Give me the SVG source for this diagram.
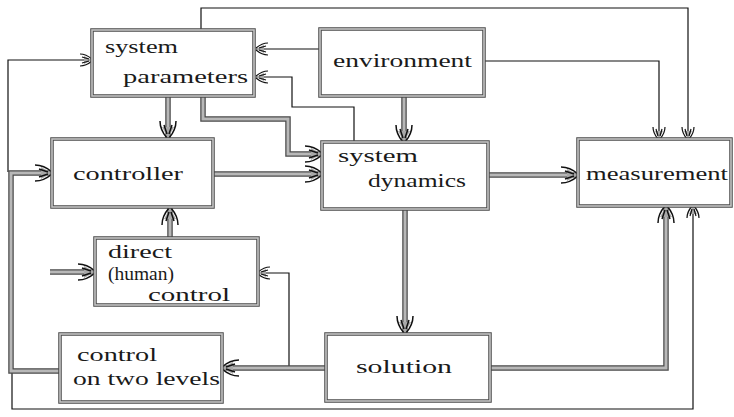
<svg xmlns="http://www.w3.org/2000/svg" width="734" height="417" viewBox="0 0 734 417">
<style>
.bo{fill:#fff;stroke:#4a4a4a;stroke-width:3.5}
.bi{fill:none;stroke:#c4c4c4;stroke-width:1.6}
.ko{fill:none;stroke:#4a4a4a;stroke-width:5.5}
.ki{fill:none;stroke:#b8b8b8;stroke-width:3}
.th{fill:none;stroke:#111;stroke-width:1.2}
text{font-family:"Liberation Serif","DejaVu Serif",serif;font-size:19px;fill:#1a1a1a}
</style>
<defs>
<marker id="ak" viewBox="-18 -10 20 20" markerWidth="20" markerHeight="20" refX="0" refY="0" orient="auto" markerUnits="userSpaceOnUse">
<path d="M0,0 L-11,-6 L-11,6 Z" fill="#a8a8a8"/>
<path d="M-17,-8 Q-8,-8 0,-1 M-17,8 Q-8,8 0,1 M-13,-4 L-4,-1 M-13,4 L-4,1" fill="none" stroke="#111" stroke-width="1.5"/>
</marker>
<marker id="at" viewBox="-14 -8 16 16" markerWidth="16" markerHeight="16" refX="0" refY="0" orient="auto" markerUnits="userSpaceOnUse">
<path d="M0,0 L-8,-4 L-8,4 Z" fill="#aaa"/>
<path d="M-12,-6 Q-6,-6 0,-1 M-12,6 Q-6,6 0,1 M-10,-3 L-3,-1 M-10,3 L-3,1" fill="none" stroke="#111" stroke-width="1.2"/>
</marker>
</defs>
<g id="connectors">
<g id="thin">
<path class="th" d="M201,29 V8 H688 V139" marker-end="url(#at)"/>
<path class="th" d="M484,61 H659 V139" marker-end="url(#at)"/>
<path class="th" d="M320,49 H256" marker-end="url(#at)"/>
<path class="th" d="M354,142 V107 H292 V77 H256" marker-end="url(#at)"/>
<path class="th" d="M8,172 V60 H92" marker-end="url(#at)"/>
<path class="th" d="M12,372 V409 H693 V206" marker-end="url(#at)"/>
<path class="th" d="M289,368 V273 H258" marker-end="url(#at)"/>
</g>
<g id="thick">
<path class="ko" d="M168,96 V138"/><path class="ki" d="M168,96 V138" marker-end="url(#ak)"/>
<path class="ko" d="M203,96 V119 H288 V154 H322"/><path class="ki" d="M203,96 V119 H288 V154 H322" marker-end="url(#ak)"/>
<path class="ko" d="M404,96 V142"/><path class="ki" d="M404,96 V142" marker-end="url(#ak)"/>
<path class="ko" d="M213,174 H322"/><path class="ki" d="M213,174 H322" marker-end="url(#ak)"/>
<path class="ko" d="M488,175 H578"/><path class="ki" d="M488,175 H578" marker-end="url(#ak)"/>
<path class="ko" d="M405,209 V333"/><path class="ki" d="M405,209 V333" marker-end="url(#ak)"/>
<path class="ko" d="M490,368 H666 V206"/><path class="ki" d="M490,368 H666 V206" marker-end="url(#ak)"/>
<path class="ko" d="M326,368 H222"/><path class="ki" d="M326,368 H222" marker-end="url(#ak)"/>
<path class="ko" d="M60,371 H11 V173 H52"/><path class="ki" d="M60,371 H11 V173 H52" marker-end="url(#ak)"/>
<path class="ko" d="M50,272 H95"/><path class="ki" d="M50,272 H95" marker-end="url(#ak)"/>
<path class="ko" d="M170,238 V208"/><path class="ki" d="M170,238 V208" marker-end="url(#ak)"/>
</g>
</g>
<g id="system-parameters"><rect class="bo" x="92" y="30" width="162" height="66"/><rect class="bi" x="92" y="30" width="162" height="66"/>
<text x="105" y="53" textLength="73" lengthAdjust="spacingAndGlyphs">system</text>
<text x="123" y="83" textLength="125" lengthAdjust="spacingAndGlyphs">parameters</text></g>
<g id="environment"><rect class="bo" x="320" y="29" width="164" height="67"/><rect class="bi" x="320" y="29" width="164" height="67"/>
<text x="333" y="67" textLength="139" lengthAdjust="spacingAndGlyphs">environment</text></g>
<g id="controller"><rect class="bo" x="52" y="139" width="161" height="68"/><rect class="bi" x="52" y="139" width="161" height="68"/>
<text x="73" y="180" textLength="110" lengthAdjust="spacingAndGlyphs">controller</text></g>
<g id="system-dynamics"><rect class="bo" x="322" y="142" width="166" height="67"/><rect class="bi" x="322" y="142" width="166" height="67"/>
<text x="338" y="162" textLength="80" lengthAdjust="spacingAndGlyphs">system</text>
<text x="368" y="187" textLength="98" lengthAdjust="spacingAndGlyphs">dynamics</text></g>
<g id="measurement"><rect class="bo" x="578" y="139" width="153" height="67"/><rect class="bi" x="578" y="139" width="153" height="67"/>
<text x="586" y="180" textLength="142" lengthAdjust="spacingAndGlyphs">measurement</text></g>
<g id="direct-control"><rect class="bo" x="95" y="238" width="163" height="67"/><rect class="bi" x="95" y="238" width="163" height="67"/>
<text x="108" y="258" textLength="64" lengthAdjust="spacingAndGlyphs">direct</text>
<text x="108" y="280" textLength="66" lengthAdjust="spacingAndGlyphs">(human)</text>
<text x="148" y="301" textLength="82" lengthAdjust="spacingAndGlyphs">control</text></g>
<g id="control-two-levels"><rect class="bo" x="60" y="334" width="162" height="68"/><rect class="bi" x="60" y="334" width="162" height="68"/>
<text x="77" y="361" textLength="80" lengthAdjust="spacingAndGlyphs">control</text>
<text x="73" y="385" textLength="147" lengthAdjust="spacingAndGlyphs">on two levels</text></g>
<g id="solution"><rect class="bo" x="326" y="334" width="164" height="67"/><rect class="bi" x="326" y="334" width="164" height="67"/>
<text x="356" y="373" textLength="96" lengthAdjust="spacingAndGlyphs">solution</text></g>
</svg>
